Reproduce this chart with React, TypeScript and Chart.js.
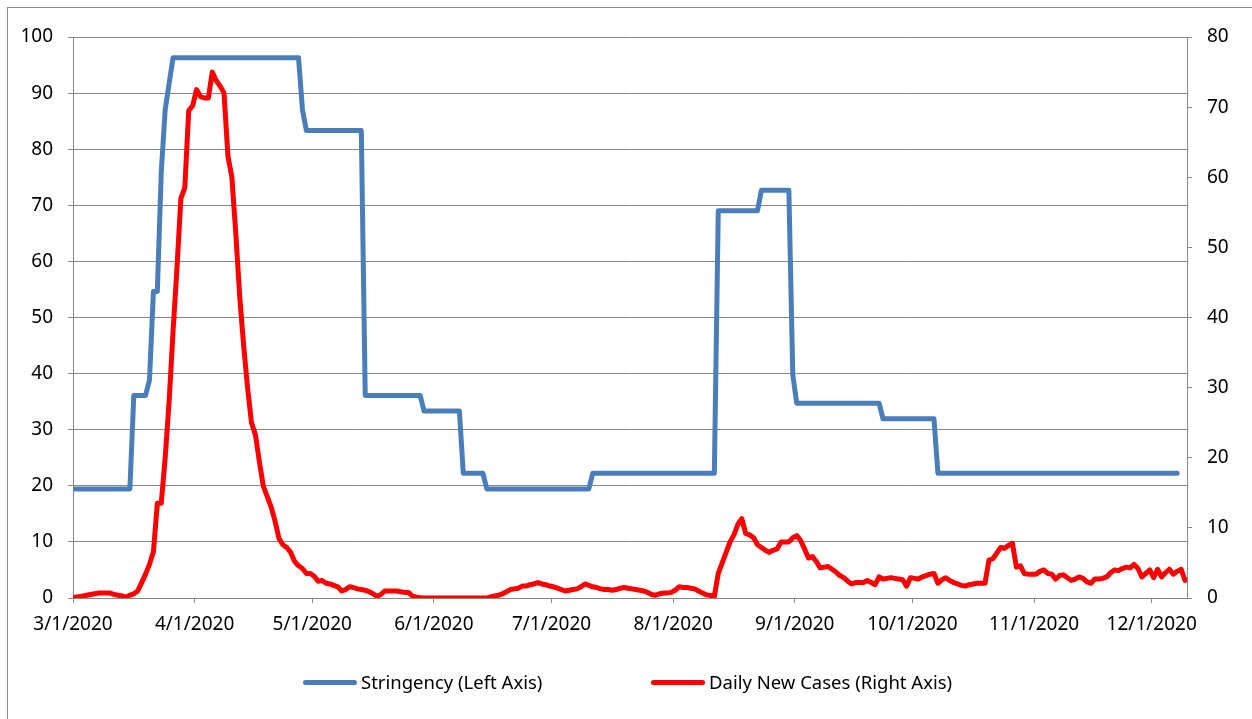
import React, { useEffect, useRef } from 'react';
import { Chart, registerables } from 'chart.js';

Chart.register(...registerables);

// Day offsets (from 3/1/2020) where each month starts, and their labels
const monthTickDays = [0, 31, 61, 92, 122, 153, 184, 214, 245, 275];
const monthTickLabels = [
  '3/1/2020', '4/1/2020', '5/1/2020', '6/1/2020', '7/1/2020',
  '8/1/2020', '9/1/2020', '10/1/2020', '11/1/2020', '12/1/2020',
];
const axisDays = 284; // 3/1/2020 .. 12/9/2020

// Stringency index (left axis): day offsets where the value changes, and the values
const stringencyDays = [
  0, 14, 15, 18, 19, 20, 21, 22, 23, 24, 25, 57, 58, 59, 73, 74, 88, 89,
  98, 99, 104, 105, 131, 132, 163, 164, 174, 175, 182, 183, 184, 205, 206,
  219, 220, 281,
];
const stringencyValues = [
  19.44, 19.44, 36.11, 36.11, 38.89, 54.63, 54.63, 75.93, 87.04, 91.67, 96.3,
  96.3, 87.04, 83.33, 83.33, 36.11, 36.11, 33.33, 33.33, 22.22, 22.22, 19.44,
  19.44, 22.22, 22.22, 69.04, 69.04, 72.69, 72.69, 39.81, 34.72, 34.72, 31.94,
  31.94, 22.22, 22.22,
];

// Daily new cases (right axis), one value per day from 3/1/2020
const dailyNewCases = [
  0.1, 0.2, 0.3, 0.4, 0.5, 0.6, 0.7, 0.7, 0.7, 0.7,
  0.5, 0.4, 0.3, 0.1, 0.4, 0.6, 1.0, 2.2, 3.4, 4.8,
  6.6, 13.5, 13.5, 20, 28, 38, 47, 57, 58.5, 69.5,
  70.2, 72.5, 71.5, 71.3, 71.3, 75, 73.8, 73, 72, 63,
  60, 52, 43, 36, 30, 25, 23.3, 19.5, 16, 14.5,
  13, 11, 8.5, 7.6, 7.2, 6.5, 5.2, 4.6, 4.2, 3.5,
  3.5, 3.1, 2.4, 2.5, 2.1, 2.0, 1.8, 1.6, 1.0, 1.2,
  1.6, 1.5, 1.3, 1.2, 1.1, 0.9, 0.6, 0.25, 0.5, 1.0,
  1.0, 1.0, 1.0, 0.9, 0.8, 0.8, 0.3, 0.1, 0.05, 0,
  0, 0, 0, 0, 0, 0, 0, 0, 0, 0,
  0, 0, 0, 0, 0, 0, 0.15, 0.3, 0.4, 0.6,
  0.9, 1.2, 1.3, 1.4, 1.7, 1.7, 1.9, 2.0, 2.2, 2.0,
  1.9, 1.7, 1.6, 1.4, 1.2, 1.0, 1.1, 1.2, 1.3, 1.6,
  2.0, 1.8, 1.6, 1.5, 1.3, 1.2, 1.2, 1.1, 1.2, 1.4,
  1.5, 1.4, 1.3, 1.2, 1.1, 1.0, 0.8, 0.5, 0.4, 0.6,
  0.7, 0.7, 0.8, 1.1, 1.6, 1.5, 1.5, 1.4, 1.3, 1.0,
  0.7, 0.45, 0.35, 0.25, 3.5, 5.0, 6.5, 8.0, 9.0, 10.5,
  11.3, 9.2, 9.0, 8.6, 7.6, 7.2, 6.8, 6.5, 6.8, 7.0,
  8.0, 8.0, 8.0, 8.6, 8.9, 8.2, 7.0, 5.7, 5.9, 5.2,
  4.3, 4.4, 4.5, 4.1, 3.7, 3.2, 2.9, 2.4, 2.0, 2.2,
  2.2, 2.2, 2.5, 2.2, 1.9, 3.0, 2.7, 2.8, 2.9, 2.8,
  2.7, 2.6, 1.7, 2.9, 2.8, 2.7, 3.0, 3.2, 3.4, 3.5,
  2.1, 2.6, 2.9, 2.5, 2.2, 2.0, 1.8, 1.7, 1.9, 2.0,
  2.1, 2.1, 2.1, 5.4, 5.6, 6.4, 7.2, 7.1, 7.5, 7.8,
  4.4, 4.6, 3.5, 3.4, 3.4, 3.4, 3.8, 4.0, 3.5, 3.4,
  2.7, 3.2, 3.3, 2.9, 2.5, 2.7, 3.0, 2.8, 2.3, 2.1,
  2.7, 2.7, 2.8, 3.0, 3.6, 4.0, 3.9, 4.2, 4.4, 4.3,
  4.8, 4.2, 3.0, 3.5, 4.0, 2.9, 4.1, 3.0, 3.6, 4.1,
  3.4, 3.8, 4.1, 2.5,
];

const seriesNames = ['Stringency (Left Axis)', 'Daily New Cases (Right Axis)'];
const seriesColors = ['#4A7EBB', '#FF0000'];

const FONT = '"Noto Sans", sans-serif';
const GRID = '#868686';

export default function App() {
  const canvasRef = useRef<HTMLCanvasElement | null>(null);

  useEffect(() => {
    const canvas = canvasRef.current;
    if (!canvas) return;
    const tickFont = { family: FONT, size: 19 };
    const chart = new Chart(canvas, {
      type: 'line',
      data: {
        datasets: [
          {
            label: seriesNames[0],
            data: stringencyDays.map((d, i) => ({ x: d + 0.5, y: stringencyValues[i] })),
            borderColor: seriesColors[0],
            backgroundColor: seriesColors[0],
            borderWidth: 5,
            pointRadius: 0,
            tension: 0,
            borderJoinStyle: 'round',
            borderCapStyle: 'round',
            yAxisID: 'y',
          },
          {
            label: seriesNames[1],
            data: dailyNewCases.map((v, i) => ({ x: i + 0.5, y: v })),
            borderColor: seriesColors[1],
            backgroundColor: seriesColors[1],
            borderWidth: 5,
            pointRadius: 0,
            tension: 0,
            borderJoinStyle: 'round',
            borderCapStyle: 'round',
            yAxisID: 'y1',
          },
        ],
      },
      options: {
        responsive: false,
        animation: false,
        devicePixelRatio: 1,
        layout: { padding: { top: 37, bottom: 71, left: 0, right: 0 } },
        plugins: {
          legend: { display: false },
          tooltip: { enabled: false },
        },
        scales: {
          x: {
            type: 'linear',
            min: 0,
            max: axisDays,
            grid: { drawOnChartArea: false, drawTicks: true, tickLength: 5, color: GRID },
            border: { color: GRID, width: 1 },
            ticks: {
              autoSkip: false,
              maxRotation: 0,
              padding: 10,
              color: '#000',
              font: tickFont,
              callback: (value: any) => {
                const idx = monthTickDays.indexOf(Number(value));
                return idx >= 0 ? monthTickLabels[idx] : '';
              },
            },
            afterBuildTicks: (scale: any) => {
              scale.ticks = monthTickDays.map((v) => ({ value: v }));
            },
            afterFit: (scale: any) => {
              scale.height = 50;
            },
          },
          y: {
            position: 'left',
            min: 0,
            max: 100,
            grid: { color: GRID, tickLength: 5 },
            border: { color: GRID, width: 1 },
            ticks: { stepSize: 10, padding: 15, color: '#000', font: tickFont },
            afterFit: (scale: any) => {
              scale.width = 73;
            },
          },
          y1: {
            position: 'right',
            min: 0,
            max: 80,
            grid: { drawOnChartArea: false, color: GRID, tickLength: 5 },
            border: { color: GRID, width: 1 },
            ticks: { stepSize: 10, padding: 15, color: '#000', font: tickFont },
            afterFit: (scale: any) => {
              scale.width = 65;
            },
          },
        },
      },
    });
    return () => chart.destroy();
  }, []);

  const legendText: React.CSSProperties = {
    position: 'absolute',
    top: 670,
    height: 24,
    lineHeight: '24px',
    fontFamily: FONT,
    fontSize: 18.5,
    color: '#000',
    whiteSpace: 'nowrap',
  };
  const legendLine = (left: number, color: string): React.CSSProperties => ({
    position: 'absolute',
    left,
    top: 680,
    width: 54,
    height: 5,
    borderRadius: 3,
    background: color,
  });

  return (
    <div style={{ position: 'absolute', left: 0, top: 0, width: 1252, height: 719, overflow: 'hidden', background: '#fff' }}>
      <div
        style={{
          position: 'absolute',
          left: 7,
          top: 7,
          width: 1300,
          height: 800,
          borderLeft: '1px solid #8c8c8c',
          borderTop: '1px solid #8c8c8c',
        }}
      />
      <canvas ref={canvasRef} width={1252} height={719} style={{ position: 'absolute', left: 0, top: 0, display: 'block' }} />
      <div style={legendLine(303, seriesColors[0])} />
      <div style={{ ...legendText, left: 361 }}>{seriesNames[0]}</div>
      <div style={legendLine(651, seriesColors[1])} />
      <div style={{ ...legendText, left: 709 }}>{seriesNames[1]}</div>
    </div>
  );
}
